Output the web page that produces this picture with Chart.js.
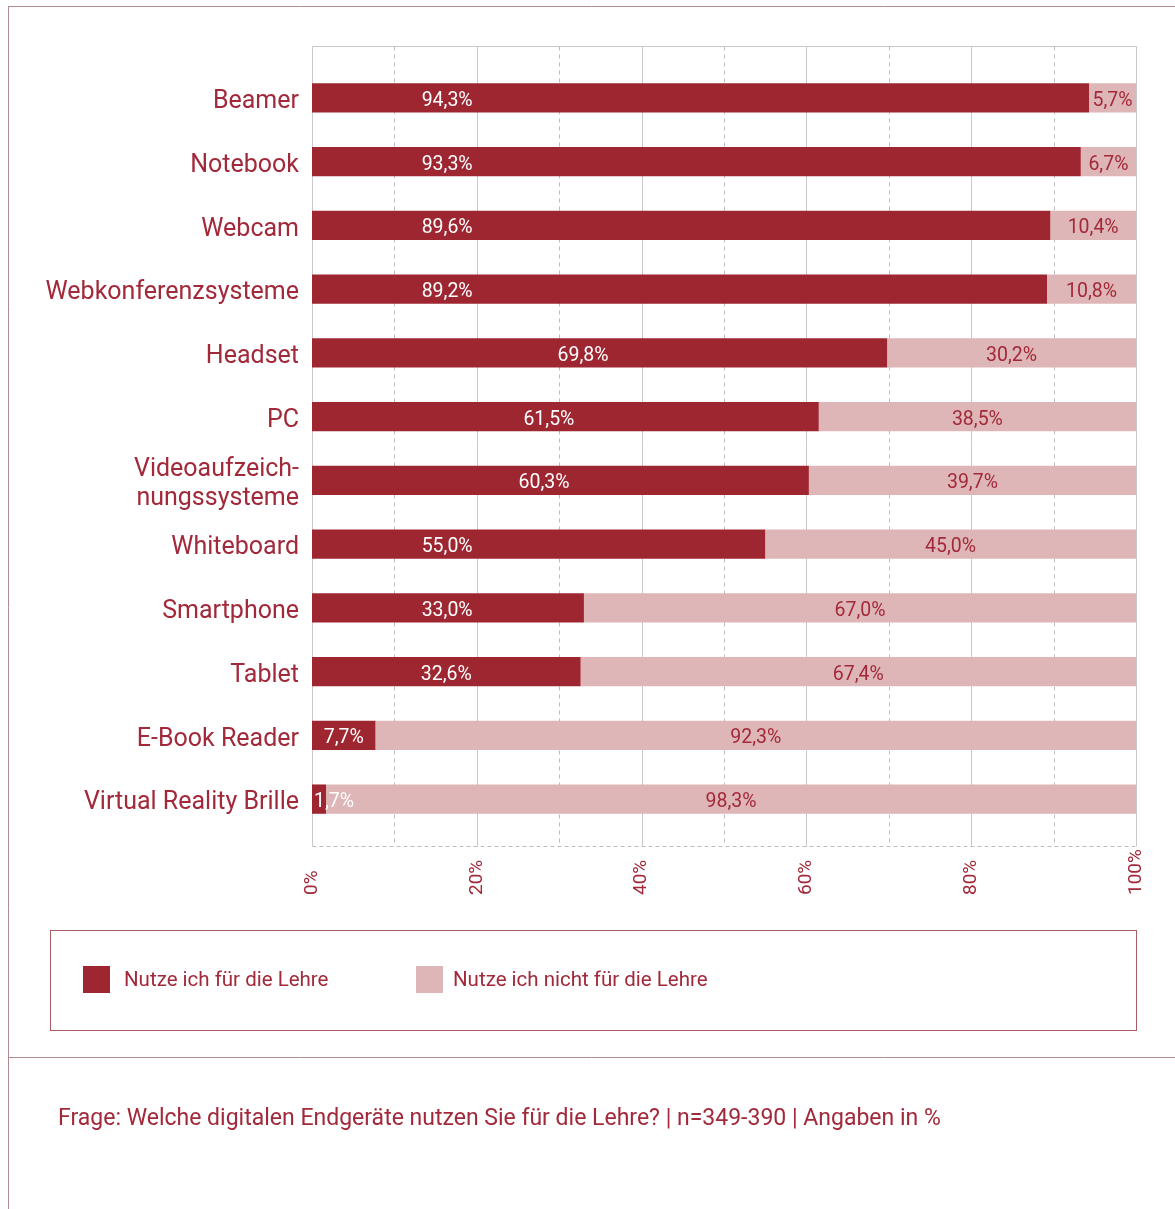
<!DOCTYPE html>
<html>
<head>
<meta charset="utf-8">
<script src="https://cdn.jsdelivr.net/npm/chart.js@4"></script>
<style>
html,body{margin:0;padding:0;background:#fff;}
#wrap{width:1175px;height:1209px;position:relative;}
canvas{display:block;}
</style>
</head>
<body>
<div id="wrap"><canvas id="c" width="1175" height="1209"></canvas></div>
<script>
// ---------- data ----------
const categories = ['Beamer', 'Notebook', 'Webcam', 'Webkonferenzsysteme', 'Headset', 'PC',
  ['Videoaufzeich-', 'nungssysteme'], 'Whiteboard', 'Smartphone', 'Tablet', 'E-Book Reader', 'Virtual Reality Brille'];
const usedValues    = [94.3, 93.3, 89.6, 89.2, 69.8, 61.5, 60.3, 55.0, 33.0, 32.6, 7.7, 1.7];
const notUsedValues = [5.7, 6.7, 10.4, 10.8, 30.2, 38.5, 39.7, 45.0, 67.0, 67.4, 92.3, 98.3];
const seriesNames   = ['Nutze ich für die Lehre', 'Nutze ich nicht für die Lehre'];
const xTickValues   = [0, 20, 40, 60, 80, 100];
const footnote      = 'Frage: Welche digitalen Endgeräte nutzen Sie für die Lehre? | n=349-390 | Angaben in %';

// ---------- style ----------
const DARK = '#9e2631';
const LIGHT = '#dfb6b7';
const TEXT = '#a2293a';
const FONT = 'Roboto';
const fmt = v => v.toFixed(1).replace('.', ',') + '%';

function line(ctx, x1, y1, x2, y2) {
  ctx.beginPath(); ctx.moveTo(x1, y1); ctx.lineTo(x2, y2); ctx.stroke();
}

const decor = {
  id: 'decor',
  beforeDatasetsDraw(chart) {
    const { ctx, chartArea: a, scales: { x } } = chart;
    const top = Math.round(a.top - 20) + 0.5, bottom = Math.round(a.bottom + 15) + 0.5;
    ctx.save();
    ctx.lineWidth = 1;
    for (let v = 0; v <= 100; v += 10) {
      const px = Math.round(x.getPixelForValue(v)) + 0.5;
      const major = v % 20 === 0;
      ctx.strokeStyle = major ? '#c9c9c9' : '#bdbdbd';
      ctx.setLineDash(major ? [] : [4, 4]);
      line(ctx, px, top, px, bottom);
    }
    const x0 = Math.round(x.getPixelForValue(0)) + 0.5, x1 = Math.round(x.getPixelForValue(100)) + 0.5;
    ctx.setLineDash([]);
    ctx.strokeStyle = '#c9c9c9';
    line(ctx, x0, top, x1, top);
    ctx.setLineDash([4, 3]);
    ctx.strokeStyle = '#bdbdbd';
    line(ctx, x0, bottom, x1, bottom);
    ctx.restore();
  },
  afterDatasetsDraw(chart) {
    const { ctx, scales: { x } } = chart;
    const m0 = chart.getDatasetMeta(0), m1 = chart.getDatasetMeta(1);
    ctx.save();
    ctx.font = '19.5px ' + FONT;
    ctx.textAlign = 'center';
    ctx.textBaseline = 'middle';
    usedValues.forEach((v, i) => {
      const el = m0.data[i];
      const t = fmt(v);
      const w = ctx.measureText(t).width;
      const anchor = (v > 58 && v < 80) ? v / 2 - 2 : Math.min(v / 2, 16.4);
      let cx = x.getPixelForValue(anchor);
      cx = Math.max(cx, el.base + w / 2 + 2);
      ctx.fillStyle = '#ffffff';
      ctx.fillText(t, cx, el.y + 3);
    });
    notUsedValues.forEach((v, i) => {
      const el = m1.data[i];
      const t = fmt(v);
      const w = ctx.measureText(t).width;
      let cx = (el.base + el.x) / 2;
      cx = Math.max(cx, el.base + w / 2 + 1);
      ctx.fillStyle = TEXT;
      ctx.fillText(t, cx, el.y + 3);
    });
    ctx.restore();
  },
  afterDraw(chart) {
    const { ctx, chartArea: a, scales: { x } } = chart;
    ctx.save();
    // x tick labels (rotated, reading upward, start-aligned)
    ctx.font = '19px ' + FONT;
    ctx.fillStyle = TEXT;
    xTickValues.forEach(v => {
      const px = x.getPixelForValue(v);
      ctx.save();
      ctx.translate(px, a.bottom + 64);
      ctx.rotate(-Math.PI / 2);
      ctx.textAlign = 'left';
      ctx.textBaseline = 'middle';
      ctx.fillText(v + '%', 0, 0);
      ctx.restore();
    });
    // outer frame
    ctx.lineWidth = 1;
    ctx.strokeStyle = '#b08a8e';
    line(ctx, 8, 6.5, 1175, 6.5);
    line(ctx, 8.5, 6, 8.5, 1209);
    line(ctx, 8, 1057.5, 1175, 1057.5);
    // legend box
    ctx.strokeStyle = '#a85c64';
    ctx.strokeRect(50.5, 930.5, 1086, 100);
    const legendItems = [
      { x: 83, tx: 124, color: DARK, text: seriesNames[0] },
      { x: 416, tx: 453, color: LIGHT, text: seriesNames[1] }
    ];
    ctx.font = '20.5px ' + FONT;
    ctx.textAlign = 'left';
    ctx.textBaseline = 'middle';
    legendItems.forEach(it => {
      ctx.fillStyle = it.color;
      ctx.fillRect(it.x, 966, 27, 27);
      ctx.fillStyle = TEXT;
      ctx.fillText(it.text, it.tx, 981);
    });
    // footnote
    ctx.font = '23px ' + FONT;
    ctx.fillStyle = TEXT;
    ctx.fillText(footnote, 58, 1119);
    ctx.restore();
  }
};

new Chart(document.getElementById('c'), {
  type: 'bar',
  data: {
    labels: categories,
    datasets: [
      { label: seriesNames[0], data: usedValues, backgroundColor: DARK },
      { label: seriesNames[1], data: notUsedValues, backgroundColor: LIGHT }
    ]
  },
  options: {
    indexAxis: 'y',
    responsive: false,
    animation: false,
    layout: { padding: { top: 66, bottom: 378, left: 0, right: 39 } },
    datasets: { bar: { categoryPercentage: 1, barPercentage: 0.46 } },
    plugins: { legend: { display: false }, tooltip: { enabled: false } },
    scales: {
      x: { type: 'linear', stacked: true, min: 0, max: 100, display: false },
      y: {
        stacked: true,
        grid: { display: false },
        border: { display: false },
        ticks: { color: TEXT, font: { family: FONT, size: 25, lineHeight: 1.15 }, padding: 5, labelOffset: 4, autoSkip: false },
        afterFit(s) { s.width = 312; }
      }
    }
  },
  plugins: [decor]
});
</script>
</body>
</html>
